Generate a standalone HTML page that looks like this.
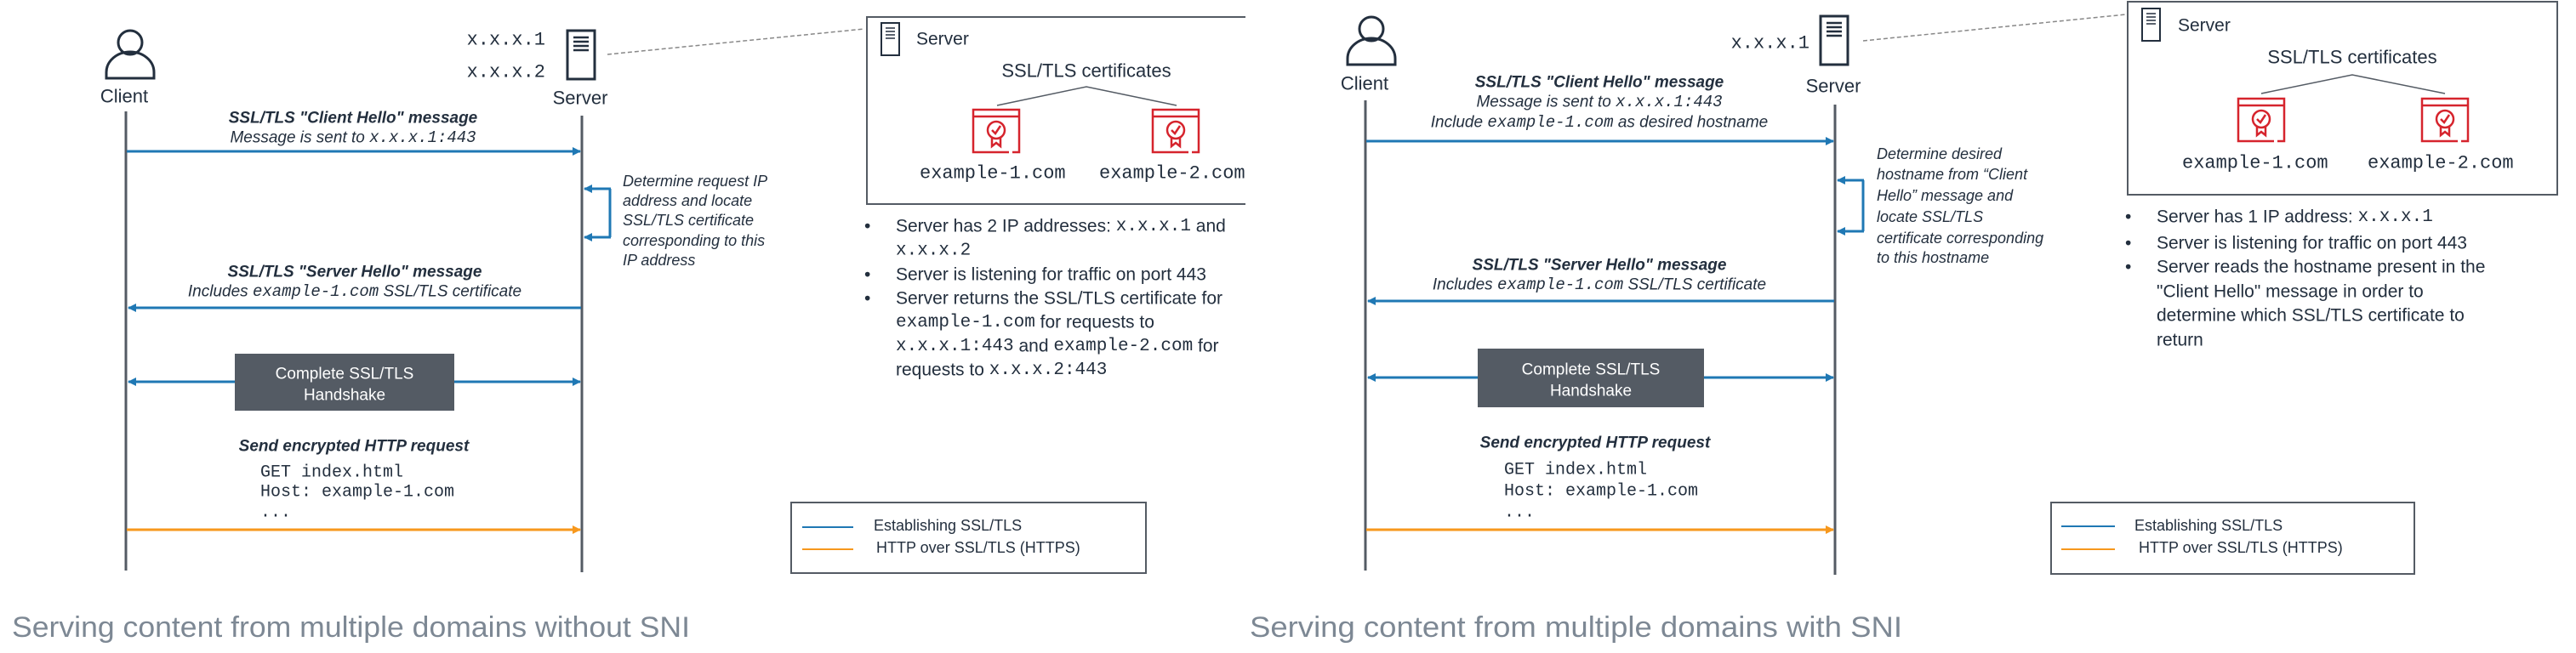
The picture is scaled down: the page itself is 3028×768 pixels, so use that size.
<!DOCTYPE html>
<html><head><meta charset="utf-8"><style>
html,body{margin:0;padding:0;background:#fff}
svg{display:block}
text{font-family:"Liberation Sans",Arial,sans-serif;fill:#232f3e}
.m{font-family:"Liberation Mono",monospace}
</style></head><body>
<svg width="3028" height="768" viewBox="0 0 3028 768" xmlns="http://www.w3.org/2000/svg">
<defs>
<marker id="ab" markerWidth="10" markerHeight="10" refX="9" refY="5" orient="auto" markerUnits="userSpaceOnUse"><path d="M0,0 L10,5 L0,10 z" fill="#1f78b4"/></marker>
<marker id="ao" markerWidth="10" markerHeight="10" refX="9" refY="5" orient="auto" markerUnits="userSpaceOnUse"><path d="M0,0 L10,5 L0,10 z" fill="#f7981d"/></marker>
<clipPath id="cl"><rect x="0" y="0" width="1464" height="768"/></clipPath>
<g id="person" fill="none" stroke="#232f3e" stroke-width="3">
<circle cx="0" cy="15" r="14"/>
<path d="M-28,57 L-28,50 A28,24 0 0 1 28,50 L28,57 Z"/>
</g>
<g id="srv" fill="none" stroke="#232f3e" stroke-width="3">
<rect x="0" y="0" width="32" height="57"/>
<path d="M7,8 H25 M7,13 H25 M7,18 H25 M7,23 H25" stroke-width="2.5"/>
</g>
<g id="srvs" fill="none" stroke="#232f3e" stroke-width="2">
<rect x="0" y="0" width="21" height="38"/>
<path d="M5,6 H16 M5,10 H16 M5,14 H16 M5,18 H16" stroke-width="1.6"/>
</g>
<g id="cert" fill="none" stroke="#d6242d" stroke-width="2.5">
<path d="M46,50 H54 V0 H0 V50 H42"/>
<path d="M0,8 H54"/>
<circle cx="27" cy="24" r="10"/>
<path d="M22,24 L26,28 L32,19"/>
<path d="M22,33 V43 L27,39 L32,43 V33"/>
</g>
</defs>

<!-- LEFT PANEL -->
<g clip-path="url(#cl)">
<use href="#person" x="153" y="35"/>
<text x="146" y="113" font-size="22" text-anchor="middle" dominant-baseline="central">Client</text>
<use href="#srv" x="667" y="36"/>
<text x="641" y="47" font-size="22" class="m" text-anchor="end" dominant-baseline="central">x.x.x.1</text>
<text x="641" y="85" font-size="22" class="m" text-anchor="end" dominant-baseline="central">x.x.x.2</text>
<text x="682" y="115" font-size="22" text-anchor="middle" dominant-baseline="central">Server</text>
<line x1="148" y1="131" x2="148" y2="671" stroke="#545b64" stroke-width="3"/>
<line x1="684" y1="136" x2="684" y2="673" stroke="#545b64" stroke-width="3"/>
<line x1="714" y1="64" x2="1016" y2="34" stroke="#888" stroke-width="1.5" stroke-dasharray="5,3"/>

<text x="415" y="139" font-size="19" font-weight="bold" font-style="italic" text-anchor="middle" dominant-baseline="central">SSL/TLS "Client Hello" message</text>
<text x="415" y="162" font-size="19" font-style="italic" text-anchor="middle" dominant-baseline="central">Message is sent to <tspan class="m" font-size="19">x.x.x.1:443</tspan></text>
<line x1="149" y1="178" x2="682" y2="178" stroke="#1f78b4" stroke-width="3" marker-end="url(#ab)"/>

<path d="M717,222 V279" stroke="#1f78b4" stroke-width="3" fill="none"/>
<line x1="718" y1="222" x2="687" y2="222" stroke="#1f78b4" stroke-width="3" marker-end="url(#ab)"/>
<line x1="718" y1="279" x2="687" y2="279" stroke="#1f78b4" stroke-width="3" marker-end="url(#ab)"/>
<g font-size="18" font-style="italic">
<text x="732" y="213" dominant-baseline="central">Determine request IP</text>
<text x="732" y="236" dominant-baseline="central">address and locate</text>
<text x="732" y="259" dominant-baseline="central">SSL/TLS certificate</text>
<text x="732" y="283" dominant-baseline="central">corresponding to this</text>
<text x="732" y="306" dominant-baseline="central">IP address</text>
</g>

<text x="417" y="320" font-size="19" font-weight="bold" font-style="italic" text-anchor="middle" dominant-baseline="central">SSL/TLS "Server Hello" message</text>
<text x="417" y="343" font-size="19" font-style="italic" text-anchor="middle" dominant-baseline="central">Includes <tspan class="m">example-1.com</tspan>  SSL/TLS certificate</text>
<line x1="683" y1="362" x2="151" y2="362" stroke="#1f78b4" stroke-width="3" marker-end="url(#ab)"/>

<line x1="276" y1="449" x2="151" y2="449" stroke="#1f78b4" stroke-width="3" marker-end="url(#ab)"/>
<line x1="534" y1="449" x2="682" y2="449" stroke="#1f78b4" stroke-width="3" marker-end="url(#ab)"/>
<rect x="276" y="416" width="258" height="67" fill="#545b64"/>
<text x="405" y="440" font-size="19" style="fill:#fff" text-anchor="middle" dominant-baseline="central">Complete SSL/TLS</text>
<text x="405" y="465" font-size="19" style="fill:#fff" text-anchor="middle" dominant-baseline="central">Handshake</text>

<text x="416" y="525" font-size="19" font-weight="bold" font-style="italic" text-anchor="middle" dominant-baseline="central">Send encrypted HTTP request</text>
<g font-size="20">
<text x="306" y="556" class="m" dominant-baseline="central">GET index.html</text>
<text x="306" y="579" class="m" dominant-baseline="central">Host: example-1.com</text>
<text x="306" y="603" class="m" dominant-baseline="central">...</text>
</g>
<line x1="149" y1="623" x2="682" y2="623" stroke="#f7981d" stroke-width="3" marker-end="url(#ao)"/>

<rect x="1019" y="20" width="520" height="220" fill="none" stroke="#545b64" stroke-width="2"/>
<use href="#srvs" x="1036" y="27"/>
<text x="1077" y="46" font-size="21" dominant-baseline="central">Server</text>
<text x="1277" y="83" font-size="22" text-anchor="middle" dominant-baseline="central">SSL/TLS certificates</text>
<path d="M1172,124 L1277,102 L1383,124" fill="none" stroke="#545b64" stroke-width="1.5"/>
<use href="#cert" x="1144" y="129"/>
<use href="#cert" x="1355" y="129"/>
<text x="1081" y="204" font-size="22" class="m" dominant-baseline="central">example-1.com</text>
<text x="1292" y="204" font-size="22" class="m" dominant-baseline="central">example-2.com</text>

<g font-size="21">
<text x="1016" y="266" dominant-baseline="central">•</text>
<text x="1053" y="266" dominant-baseline="central">Server has 2 IP addresses: <tspan class="m" font-size="21">x.x.x.1</tspan> and</text>
<text x="1053" y="295" class="m" font-size="21" dominant-baseline="central">x.x.x.2</text>
<text x="1016" y="323" dominant-baseline="central">•</text>
<text x="1053" y="323" dominant-baseline="central">Server is listening for traffic on port 443</text>
<text x="1016" y="351" dominant-baseline="central">•</text>
<text x="1053" y="351" dominant-baseline="central">Server returns the SSL/TLS certificate for</text>
<text x="1053" y="379" dominant-baseline="central"><tspan class="m" font-size="21">example-1.com</tspan>  for requests to</text>
<text x="1053" y="407" dominant-baseline="central"><tspan class="m" font-size="21">x.x.x.1:443</tspan>  and <tspan class="m" font-size="21">example-2.com</tspan>  for</text>
<text x="1053" y="435" dominant-baseline="central">requests to <tspan class="m" font-size="21">x.x.x.2:443</tspan></text>
</g>

<rect x="930" y="591" width="417" height="83" fill="none" stroke="#545b64" stroke-width="2"/>
<line x1="943" y1="620" x2="1003" y2="620" stroke="#1f78b4" stroke-width="2"/>
<text x="1027" y="618" font-size="18" dominant-baseline="central">Establishing SSL/TLS</text>
<line x1="943" y1="646" x2="1003" y2="646" stroke="#f7981d" stroke-width="2"/>
<text x="1030" y="644" font-size="18" dominant-baseline="central">HTTP over SSL/TLS (HTTPS)</text>
</g>
<text x="14" y="738" font-size="34" style="fill:#7d8894" dominant-baseline="central" textLength="797" lengthAdjust="spacingAndGlyphs">Serving content from multiple domains without SNI</text>

<!-- RIGHT PANEL -->
<use href="#person" x="1612" y="19"/>
<text x="1604" y="98" font-size="22" text-anchor="middle" dominant-baseline="central">Client</text>
<use href="#srv" x="2140" y="19"/>
<text x="2127" y="51" font-size="22" class="m" text-anchor="end" dominant-baseline="central">x.x.x.1</text>
<text x="2155" y="101" font-size="22" text-anchor="middle" dominant-baseline="central">Server</text>
<line x1="1605" y1="118" x2="1605" y2="671" stroke="#545b64" stroke-width="3"/>
<line x1="2157" y1="123" x2="2157" y2="676" stroke="#545b64" stroke-width="3"/>
<line x1="2190" y1="48" x2="2499" y2="17" stroke="#888" stroke-width="1.5" stroke-dasharray="5,3"/>

<text x="1880" y="97" font-size="19" font-weight="bold" font-style="italic" text-anchor="middle" dominant-baseline="central">SSL/TLS "Client Hello" message</text>
<text x="1880" y="120" font-size="19" font-style="italic" text-anchor="middle" dominant-baseline="central">Message is sent to <tspan class="m">x.x.x.1:443</tspan></text>
<text x="1880" y="144" font-size="19" font-style="italic" text-anchor="middle" dominant-baseline="central">Include <tspan class="m">example-1.com</tspan> as desired hostname</text>
<line x1="1606" y1="166" x2="2155" y2="166" stroke="#1f78b4" stroke-width="3" marker-end="url(#ab)"/>

<path d="M2190,212 V272" stroke="#1f78b4" stroke-width="3" fill="none"/>
<line x1="2191" y1="212" x2="2160" y2="212" stroke="#1f78b4" stroke-width="3" marker-end="url(#ab)"/>
<line x1="2191" y1="272" x2="2160" y2="272" stroke="#1f78b4" stroke-width="3" marker-end="url(#ab)"/>
<g font-size="18" font-style="italic">
<text x="2206" y="181" dominant-baseline="central">Determine desired</text>
<text x="2206" y="205" dominant-baseline="central">hostname from “Client</text>
<text x="2206" y="230" dominant-baseline="central">Hello” message and</text>
<text x="2206" y="255" dominant-baseline="central">locate SSL/TLS</text>
<text x="2206" y="280" dominant-baseline="central">certificate corresponding</text>
<text x="2206" y="303" dominant-baseline="central">to this hostname</text>
</g>

<text x="1880" y="312" font-size="19" font-weight="bold" font-style="italic" text-anchor="middle" dominant-baseline="central">SSL/TLS "Server Hello" message</text>
<text x="1880" y="335" font-size="19" font-style="italic" text-anchor="middle" dominant-baseline="central">Includes <tspan class="m">example-1.com</tspan>  SSL/TLS certificate</text>
<line x1="2156" y1="354" x2="1608" y2="354" stroke="#1f78b4" stroke-width="3" marker-end="url(#ab)"/>

<line x1="1737" y1="444" x2="1608" y2="444" stroke="#1f78b4" stroke-width="3" marker-end="url(#ab)"/>
<line x1="2003" y1="444" x2="2155" y2="444" stroke="#1f78b4" stroke-width="3" marker-end="url(#ab)"/>
<rect x="1737" y="410" width="266" height="69" fill="#545b64"/>
<text x="1870" y="435" font-size="19" style="fill:#fff" text-anchor="middle" dominant-baseline="central">Complete SSL/TLS</text>
<text x="1870" y="460" font-size="19" style="fill:#fff" text-anchor="middle" dominant-baseline="central">Handshake</text>

<text x="1875" y="521" font-size="19" font-weight="bold" font-style="italic" text-anchor="middle" dominant-baseline="central">Send encrypted HTTP request</text>
<g font-size="20">
<text x="1768" y="553" class="m" dominant-baseline="central">GET index.html</text>
<text x="1768" y="578" class="m" dominant-baseline="central">Host: example-1.com</text>
<text x="1768" y="603" class="m" dominant-baseline="central">...</text>
</g>
<line x1="1606" y1="623" x2="2155" y2="623" stroke="#f7981d" stroke-width="3" marker-end="url(#ao)"/>

<rect x="2501" y="2" width="505" height="227" fill="none" stroke="#545b64" stroke-width="2"/>
<use href="#srvs" x="2518" y="10"/>
<text x="2560" y="30" font-size="21" dominant-baseline="central">Server</text>
<text x="2765" y="67" font-size="22" text-anchor="middle" dominant-baseline="central">SSL/TLS certificates</text>
<path d="M2658,110 L2765,88 L2874,110" fill="none" stroke="#545b64" stroke-width="1.5"/>
<use href="#cert" x="2631" y="116"/>
<use href="#cert" x="2847" y="116"/>
<text x="2565" y="192" font-size="22" class="m" dominant-baseline="central">example-1.com</text>
<text x="2783" y="192" font-size="22" class="m" dominant-baseline="central">example-2.com</text>

<g font-size="21">
<text x="2498" y="255" dominant-baseline="central">•</text>
<text x="2535" y="255" dominant-baseline="central">Server has 1 IP address: <tspan class="m" font-size="21">x.x.x.1</tspan></text>
<text x="2498" y="286" dominant-baseline="central">•</text>
<text x="2535" y="286" dominant-baseline="central">Server is listening for traffic on port 443</text>
<text x="2498" y="314" dominant-baseline="central">•</text>
<text x="2535" y="314" dominant-baseline="central">Server reads the hostname present in the</text>
<text x="2535" y="343" dominant-baseline="central">"Client Hello" message in order to</text>
<text x="2535" y="371" dominant-baseline="central">determine which SSL/TLS certificate to</text>
<text x="2535" y="400" dominant-baseline="central">return</text>
</g>

<rect x="2411" y="591" width="427" height="84" fill="none" stroke="#545b64" stroke-width="2"/>
<line x1="2423" y1="619" x2="2486" y2="619" stroke="#1f78b4" stroke-width="2"/>
<text x="2509" y="618" font-size="18" dominant-baseline="central">Establishing SSL/TLS</text>
<line x1="2423" y1="646" x2="2486" y2="646" stroke="#f7981d" stroke-width="2"/>
<text x="2514" y="644" font-size="18" dominant-baseline="central">HTTP over SSL/TLS (HTTPS)</text>

<text x="1469" y="738" font-size="34" style="fill:#7d8894" dominant-baseline="central" textLength="767" lengthAdjust="spacingAndGlyphs">Serving content from multiple domains with SNI</text>
</svg>
</body></html>
